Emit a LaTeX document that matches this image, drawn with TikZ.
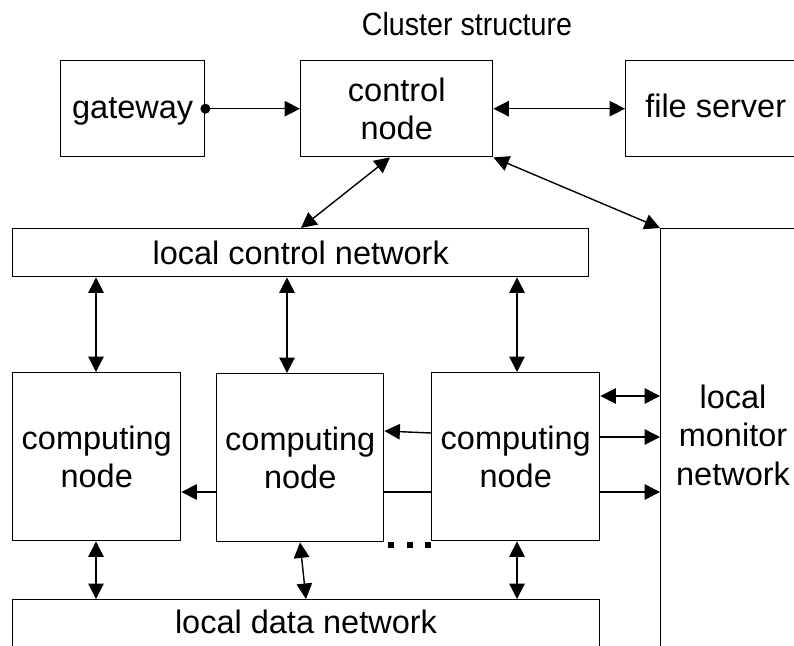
\documentclass[tikz,border=0pt]{standalone}
\usepackage{fontspec}
\setmainfont{Liberation Sans}
\newfontfamily\narrowfont[FakeStretch=0.895]{Liberation Sans}
\usetikzlibrary{arrows.meta}

\begin{document}
\begin{tikzpicture}[x=1pt,y=-1pt,
  box/.style={draw,line width=1.4pt,rectangle,inner sep=0pt,anchor=north west,
              font=\fontsize{32.5}{37.5}\selectfont,align=center},
  lbl/.style={inner sep=0pt,font=\fontsize{32.5}{38.5}\selectfont,align=center},
  link/.style={line width=1.4pt,>={Triangle[length=15.5pt,width=15.5pt]}}
]
\clip (0,0) rectangle (794,645);

% title
\node[inner sep=0pt,anchor=base,font=\narrowfont\fontsize{32}{36}\selectfont] (title) at (467,35) {Cluster structure};

% top row
\node[box,minimum width=144pt,minimum height=96pt,text height=23pt,text depth=3pt] (gw) at (60,60) {gateway};
\node[box,minimum width=192pt,minimum height=96pt] (cn) at (300,60) {control\\node};
\node[box,minimum width=180pt,minimum height=96pt,text height=23pt,text depth=5pt] (fs) at (625,60) {file server};

% networks
\node[box,minimum width=576pt,minimum height=48pt] (lcn) at (12,228) {local control network};
\node[box,minimum width=160pt,minimum height=440pt] (mon) at (660,228) {};
\node[lbl] (montext) at (733,435) {local\\monitor\\network};
\node[box,minimum width=587pt,minimum height=60pt] (ldn) at (12,599) {};
\node[lbl,anchor=base] (ldntext) at (306,633) {local data network};

% computing nodes
\node[box,minimum width=168pt,minimum height=168pt] (c1) at (12,372) {computing\\node};
\node[box,minimum width=167pt,minimum height=168pt] (c2) at (216,373) {computing\\node};
\node[box,minimum width=168pt,minimum height=168pt] (c3) at (431,372) {computing\\node};

% helper positions
\coordinate (xa) at (96,0);
\coordinate (xb) at (287,0);
\coordinate (xc) at (517,0);
\coordinate (xd) at (390,0);
\coordinate (xe) at (301,0);
\coordinate (xf) at (300,0);
\coordinate (xg) at (306,0);
\coordinate (ya) at (0,396);
\coordinate (yb) at (0,437);
\coordinate (yc) at (0,492);
\coordinate (yd) at (0,433);
\coordinate (ye) at (0,431);

% gateway -> control node
\draw[link,->] (gw.east) -- (cn.west);
\fill (gw.east) circle (5pt);
\draw[link,<->] (cn.east) -- (fs.west);
\draw[link,<->] (cn.south -| xd) -- (lcn.north -| xe);
\draw[link,<->] (cn.south east) -- (mon.north west);

% control network <-> computing nodes
\draw[link,<->] (lcn.south -| xa) -- (c1.north -| xa);
\draw[link,<->] (lcn.south -| xb) -- (c2.north -| xb);
\draw[link,<->] (lcn.south -| xc) -- (c3.north -| xc);

% computing nodes <-> data network
\draw[link,<->] (c1.south -| xa) -- (ldn.north -| xa);
\draw[link,<->] (c2.south -| xf) -- (ldn.north -| xg);
\draw[link,<->] (c3.south -| xc) -- (ldn.north -| xc);

% links between computing nodes
\draw[link,->] (c3.west |- yd) -- (c2.east |- ye);
\draw[link] (c2.east |- yc) -- (c3.west |- yc);
\draw[link,->] (c2.west |- yc) -- (c1.east |- yc);

% computing node -> monitor network
\draw[link,<->] (c3.east |- ya) -- (mon.west |- ya);
\draw[link,->] (c3.east |- yb) -- (mon.west |- yb);
\draw[link,->] (c3.east |- yc) -- (mon.west |- yc);

% ellipsis
\foreach \dx in {391,410,428}
  \fill (\dx-3,542) rectangle (\dx+3,548);
\end{tikzpicture}
\end{document}
